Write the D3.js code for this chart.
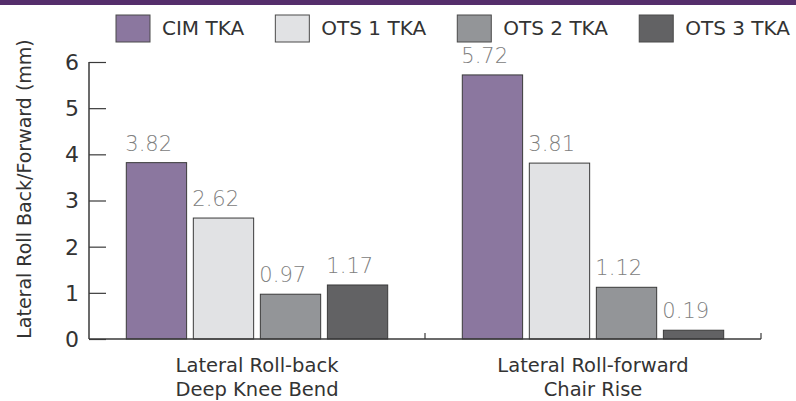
<!DOCTYPE html>
<html>
<head>
<meta charset="utf-8">
<script src="https://cdn.jsdelivr.net/npm/d3@7"></script>
<style>
  body { margin: 0; background: #fff; }
  svg { display: block; font-family: "DejaVu Sans", Lato, sans-serif; }
</style>
</head>
<body>
<svg id="chart"></svg>
<script>
// Chart data
const groups = ["Lateral Roll-back|Deep Knee Bend", "Lateral Roll-forward|Chair Rise"];
const seriesNames = ["CIM TKA", "OTS 1 TKA", "OTS 2 TKA", "OTS 3 TKA"];
const rollBackValues = [3.82, 2.62, 0.97, 1.17];
const rollForwardValues = [5.72, 3.81, 1.12, 0.19];
const yTicks = [0, 1, 2, 3, 4, 5, 6];

const seriesColors = ["#8b779f", "#e1e2e4", "#939598", "#626264"];

const width = 796;
const height = 401;
const margin = { top: 62, right: 35, bottom: 62, left: 89 };
const innerWidth = width - margin.left - margin.right;
const innerHeight = height - margin.top - margin.bottom;

const svg = d3.select("#chart")
    .attr("width", width)
    .attr("height", height);

// purple band along the top
svg.append("rect")
    .attr("x", 0).attr("y", 0)
    .attr("width", width).attr("height", 5)
    .attr("fill", "#552e6b");

const plot = svg.append("g")
    .attr("transform", `translate(${margin.left},${margin.top})`);

const data = groups.map((g, i) => ({
    group: g,
    values: (i === 0 ? rollBackValues : rollForwardValues)
        .map((v, j) => ({ series: seriesNames[j], value: v }))
}));

const x0 = d3.scaleBand()
    .domain(groups)
    .range([0, innerWidth])
    .paddingInner(0.222)
    .paddingOuter(0.111);

const x1 = d3.scaleBand()
    .domain(seriesNames)
    .range([0, x0.bandwidth()])
    .paddingInner(0.1);

const y = d3.scaleLinear()
    .domain([0, 6])
    .range([innerHeight, 0]);

const color = d3.scaleOrdinal()
    .domain(seriesNames)
    .range(seriesColors);

// Bars
const groupSel = plot.selectAll(".group")
    .data(data)
    .join("g")
    .attr("class", "group")
    .attr("transform", d => `translate(${x0(d.group)},0)`);

groupSel.selectAll("rect")
    .data(d => d.values)
    .join("rect")
    .attr("x", d => x1(d.series))
    .attr("y", d => y(d.value))
    .attr("width", x1.bandwidth())
    .attr("height", d => innerHeight - y(d.value))
    .attr("fill", d => color(d.series))
    .attr("stroke", "#3a3a3a")
    .attr("stroke-width", 1);

// Value labels
groupSel.selectAll("text.val")
    .data(d => d.values)
    .join("text")
    .attr("class", "val")
    .attr("x", d => x1(d.series) - 1)
    .attr("y", d => y(d.value) - 12)
    .attr("font-size", 21)
    .attr("font-weight", 200)
    .attr("fill", "#808080")
    .text(d => d.value.toFixed(2));

// Y axis with inward ticks
const yAxis = plot.append("g")
    .call(d3.axisRight(y).tickValues(yTicks).tickSize(17).tickFormat(""));
yAxis.select(".domain").remove();
yAxis.selectAll(".tick line").attr("stroke", "#3a3a3a").attr("stroke-width", 1.2);

plot.append("line")
    .attr("x1", 0).attr("x2", 0)
    .attr("y1", 0).attr("y2", innerHeight)
    .attr("stroke", "#3a3a3a")
    .attr("stroke-width", 1.5);

plot.selectAll(".ylabel")
    .data(yTicks)
    .join("text")
    .attr("class", "ylabel")
    .attr("x", -10)
    .attr("y", d => y(d))
    .attr("dy", "0.36em")
    .attr("text-anchor", "end")
    .attr("font-size", 22)
    .attr("fill", "#333")
    .text(d => d);

// X axis
const xEdges = [0, innerWidth / 2, innerWidth];
plot.append("line")
    .attr("x1", 0).attr("x2", innerWidth)
    .attr("y1", innerHeight).attr("y2", innerHeight)
    .attr("stroke", "#3a3a3a")
    .attr("stroke-width", 1.5);

plot.selectAll(".xtick")
    .data(xEdges.slice(1))
    .join("line")
    .attr("class", "xtick")
    .attr("x1", d => d).attr("x2", d => d)
    .attr("y1", innerHeight).attr("y2", innerHeight - 6)
    .attr("stroke", "#3a3a3a")
    .attr("stroke-width", 1.2);

const catLabels = plot.selectAll(".xcat")
    .data(groups)
    .join("text")
    .attr("class", "xcat")
    .attr("text-anchor", "middle")
    .attr("font-size", 19.5)
    .attr("fill", "#333")
    .attr("transform", d => `translate(${x0(d) + x0.bandwidth() / 2},${innerHeight + 33})`);

catLabels.selectAll("tspan")
    .data(d => d.split("|"))
    .join("tspan")
    .attr("x", 0)
    .attr("dy", (d, i) => i === 0 ? 0 : 24)
    .text(d => d);

// Y axis title
svg.append("text")
    .attr("text-anchor", "middle")
    .attr("transform", `translate(31, 189) rotate(-90)`)
    .attr("font-size", 19)
    .attr("fill", "#333")
    .text("Lateral Roll Back/Forward (mm)");

// Legend
const legendStart = 116;
const legendEnd = 790;
const legend = svg.append("g");
const items = legend.selectAll("g")
    .data(seriesNames)
    .join("g");

items.append("rect")
    .attr("width", 34)
    .attr("height", 27)
    .attr("y", 15)
    .attr("fill", d => color(d))
    .attr("stroke", "#4a4a4a")
    .attr("stroke-width", 1);

items.append("text")
    .attr("x", 46)
    .attr("y", 35)
    .attr("font-size", 20)
    .attr("fill", "#333")
    .text(d => d);

const itemWidths = items.nodes().map(n => 46 + d3.select(n).select("text").node().getComputedTextLength());
const totalItems = d3.sum(itemWidths);
const gap = (legendEnd - legendStart - totalItems) / (seriesNames.length - 1);
let cursor = legendStart;
items.attr("transform", (d, i) => {
    const t = `translate(${cursor},0)`;
    cursor += itemWidths[i] + gap;
    return t;
});
</script>
</body>
</html>
